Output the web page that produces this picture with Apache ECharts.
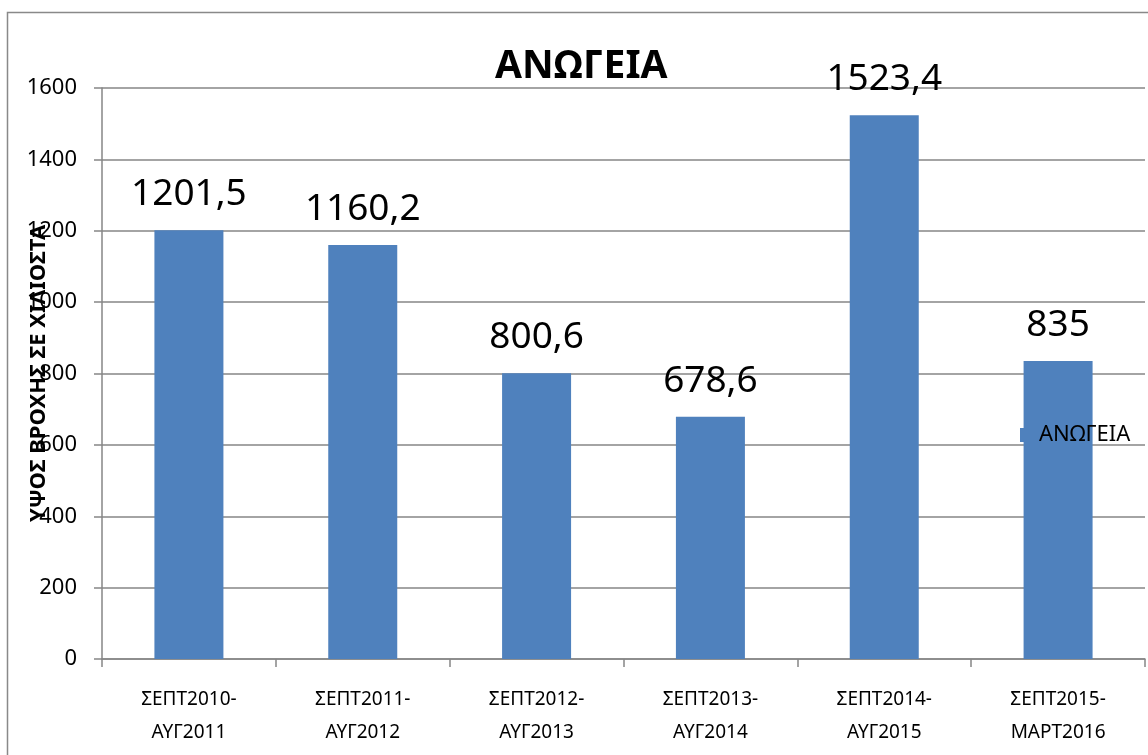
<!DOCTYPE html>
<html>
<head>
<meta charset="utf-8">
<script src="https://cdn.jsdelivr.net/npm/echarts@6/dist/echarts.min.js"></script>
<style>html,body{margin:0;padding:0;background:#fff}#c{width:1148px;height:755px}</style>
</head>
<body>
<div id="c"></div>
<script>
const categories = ['ΣΕΠΤ2010-\nΑΥΓ2011','ΣΕΠΤ2011-\nΑΥΓ2012','ΣΕΠΤ2012-\nΑΥΓ2013','ΣΕΠΤ2013-\nΑΥΓ2014','ΣΕΠΤ2014-\nΑΥΓ2015','ΣΕΠΤ2015-\nΜΑΡΤ2016'];
const values = [1201.5, 1160.2, 800.6, 678.6, 1523.4, 835];
const seriesName = 'ΑΝΩΓΕΙΑ';
const titleText = 'ΑΝΩΓΕΙΑ';
const yAxisName = 'ΥΨΟΣ ΒΡΟΧΗΣ ΣΕ ΧΙΛΙΟΣΤΑ';

const FONT = '"Noto Sans", "Open Sans", sans-serif';
const GRAY = '#868686';
const chart = echarts.init(document.getElementById('c'), null, {renderer:'canvas'});
chart.setOption({
  animation: false,
  backgroundColor: '#fff',
  textStyle: {fontFamily: FONT},
  graphic: [{
    type: 'rect', z: -10, silent: true,
    shape: {x: 7.5, y: 12.5, width: 1300, height: 900},
    style: {fill: 'none', stroke: '#898989', lineWidth: 1.5}
  }],
  title: {
    text: titleText, left: 490, top: 42,
    textStyle: {fontFamily: FONT, fontSize: 39, fontWeight: 'bold', color: '#000'}
  },
  legend: {
    data: [seriesName], left: 1015, top: 419, orient: 'vertical',
    icon: 'path://M0,0H10V10H0Z', itemWidth: 14, itemHeight: 14,
    textStyle: {fontFamily: FONT, fontSize: 22, color: '#000'}
  },
  grid: {left: 102, right: 3, top: 88, bottom: 96, containLabel: false, outerBoundsMode: 'none'},
  xAxis: {
    type: 'category', data: categories,
    axisLine: {lineStyle: {color: GRAY, width: 1.5}},
    axisTick: {show: true, length: 8, alignWithLabel: false, lineStyle: {color: GRAY, width: 1.5}},
    axisLabel: {color: '#000', fontFamily: FONT, fontSize: 19, lineHeight: 33, margin: 24, interval: 0}
  },
  yAxis: {
    type: 'value', min: 0, max: 1600, interval: 200,
    name: yAxisName, nameLocation: 'middle', nameGap: 52, nameRotate: 90, nameMoveOverlap: false,
    nameTextStyle: {fontFamily: FONT, fontSize: 22, fontWeight: 'bold', color: '#000'},
    axisLine: {show: true, lineStyle: {color: GRAY, width: 1.5}},
    axisTick: {show: true, length: 8, lineStyle: {color: GRAY, width: 1.5}},
    axisLabel: {color: '#000', fontFamily: FONT, fontSize: 22, margin: 25, formatter: v => String(v)},
    splitLine: {show: true, lineStyle: {color: GRAY, width: 1.5}}
  },
  series: [{
    type: 'bar', name: seriesName, data: values, barWidth: 69,
    itemStyle: {color: '#4F81BD'},
    label: {
      show: true, position: 'top', distance: 17,
      fontFamily: FONT, fontSize: 37, color: '#000',
      formatter: p => String(p.value).replace('.', ',')
    }
  }]
});
</script>
</body>
</html>
